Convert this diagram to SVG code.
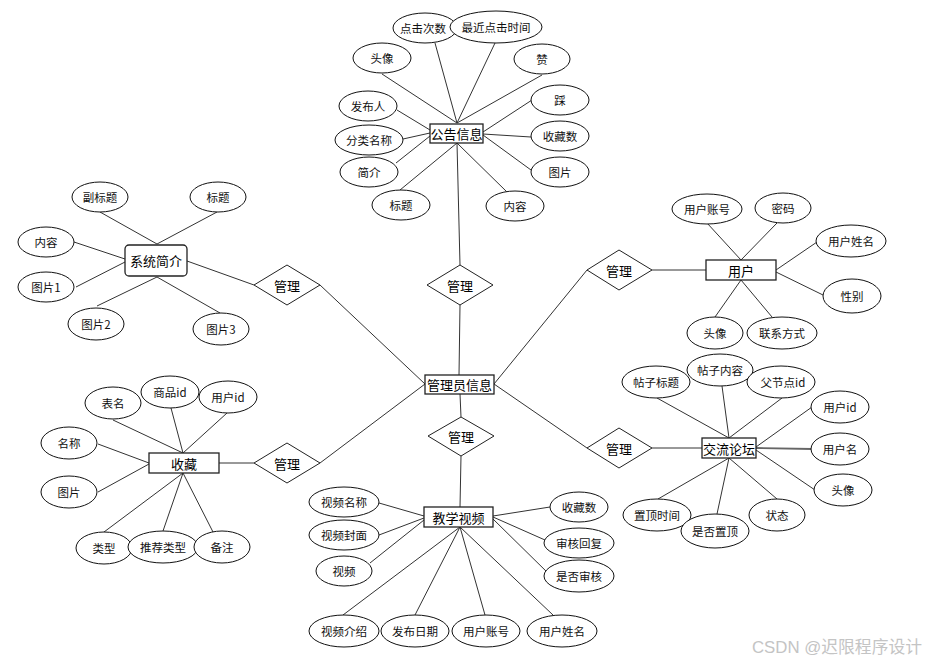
<svg xmlns="http://www.w3.org/2000/svg" width="927" height="662" viewBox="0 0 927 662">
<style>
.bg{fill:#fff}
.c line{stroke:#333;stroke-width:1}
.a ellipse{fill:#fff;stroke:#111;stroke-width:1}
.a text{font-family:"Noto Sans CJK SC","Liberation Sans",sans-serif;font-size:11.5px;fill:#111;text-anchor:middle;dominant-baseline:central}
.e rect{fill:#fff;stroke:#222;stroke-width:1.3}
.e text{font-family:"Noto Sans CJK SC","Liberation Sans",sans-serif;font-size:13px;fill:#000;text-anchor:middle;dominant-baseline:central}
.r polygon{fill:#fff;stroke:#222;stroke-width:1}
.r text{font-family:"Noto Sans CJK SC","Liberation Sans",sans-serif;font-size:13px;fill:#000;text-anchor:middle;dominant-baseline:central}
.wm{font-family:"Liberation Sans","Noto Sans CJK SC",sans-serif;font-size:16.5px;fill:#c4c4c4}
</style>
<rect class="bg" x="0" y="0" width="927" height="662"/>
<g id="connectors" class="c">
  <line x1="457" y1="123" x2="435" y2="43"/>
  <line x1="457" y1="123" x2="495" y2="43"/>
  <line x1="457" y1="123" x2="382" y2="74"/>
  <line x1="457" y1="123" x2="542" y2="75"/>
  <line x1="430" y1="130" x2="397" y2="110"/>
  <line x1="430" y1="133" x2="403" y2="139"/>
  <line x1="430" y1="136" x2="396" y2="163"/>
  <line x1="457" y1="143" x2="400" y2="190"/>
  <line x1="457" y1="143" x2="507" y2="192"/>
  <line x1="483" y1="132" x2="532" y2="100"/>
  <line x1="483" y1="134" x2="531" y2="137"/>
  <line x1="483" y1="135" x2="531" y2="170"/>
  <line x1="457" y1="143" x2="460" y2="265"/>
  <line x1="460" y1="305" x2="459" y2="375"/>
  <line x1="460" y1="394" x2="461" y2="417"/>
  <line x1="461" y1="456" x2="460" y2="507"/>
  <line x1="320" y1="285" x2="425" y2="384"/>
  <line x1="320" y1="463" x2="425" y2="384"/>
  <line x1="494" y1="384" x2="587" y2="270"/>
  <line x1="494" y1="384" x2="587" y2="448"/>
  <line x1="187" y1="261" x2="254" y2="285"/>
  <line x1="157" y1="244" x2="100" y2="212"/>
  <line x1="157" y1="244" x2="217" y2="212"/>
  <line x1="125" y1="259" x2="74" y2="242"/>
  <line x1="125" y1="262" x2="76" y2="287"/>
  <line x1="157" y1="277" x2="97" y2="306"/>
  <line x1="157" y1="277" x2="220" y2="313"/>
  <line x1="219" y1="463" x2="254" y2="463"/>
  <line x1="183" y1="453" x2="113" y2="420"/>
  <line x1="183" y1="453" x2="171" y2="408"/>
  <line x1="183" y1="453" x2="227" y2="413"/>
  <line x1="149" y1="463" x2="98" y2="444"/>
  <line x1="149" y1="464" x2="98" y2="492"/>
  <line x1="183" y1="473" x2="104" y2="532"/>
  <line x1="183" y1="473" x2="163" y2="531"/>
  <line x1="183" y1="473" x2="213" y2="532"/>
  <line x1="652" y1="270" x2="706" y2="270"/>
  <line x1="741" y1="260" x2="707" y2="223"/>
  <line x1="741" y1="260" x2="777" y2="223"/>
  <line x1="776" y1="270" x2="817" y2="242"/>
  <line x1="776" y1="272" x2="823" y2="295"/>
  <line x1="741" y1="280" x2="715" y2="317"/>
  <line x1="741" y1="280" x2="772" y2="317"/>
  <line x1="652" y1="448" x2="702" y2="448"/>
  <line x1="729" y1="438" x2="657" y2="398"/>
  <line x1="729" y1="438" x2="722" y2="386"/>
  <line x1="729" y1="438" x2="782" y2="398"/>
  <line x1="756" y1="447" x2="812" y2="407"/>
  <line x1="756" y1="448" x2="812" y2="449" style="stroke:#666;stroke-width:1.8"/>
  <line x1="756" y1="450" x2="815" y2="490"/>
  <line x1="729" y1="458" x2="658" y2="499"/>
  <line x1="729" y1="458" x2="717" y2="514"/>
  <line x1="729" y1="458" x2="777" y2="499"/>
  <line x1="424" y1="516" x2="379" y2="503"/>
  <line x1="424" y1="518" x2="379" y2="535"/>
  <line x1="424" y1="520" x2="370" y2="563"/>
  <line x1="460" y1="527" x2="343" y2="615"/>
  <line x1="460" y1="527" x2="415" y2="615"/>
  <line x1="460" y1="527" x2="485" y2="615"/>
  <line x1="460" y1="527" x2="553" y2="615"/>
  <line x1="493" y1="516" x2="550" y2="507"/>
  <line x1="493" y1="517" x2="545" y2="540"/>
  <line x1="493" y1="519" x2="550" y2="575"/>
</g>

<g id="rel-top" class="r"><polygon points="460,265 493,285 460,305 427,285"/><text x="460" y="285">管理</text></g>
<g id="rel-bottom" class="r"><polygon points="461,417 494,436 461,456 428,436"/><text x="461" y="436">管理</text></g>
<g id="rel-left-top" class="r"><polygon points="287,265 320,285 287,305 254,285"/><text x="287" y="285">管理</text></g>
<g id="rel-left-bottom" class="r"><polygon points="287,443 320,463 287,483 254,463"/><text x="287" y="463">管理</text></g>
<g id="rel-right-top" class="r"><polygon points="619,250 652,270 619,290 587,270"/><text x="619" y="270">管理</text></g>
<g id="rel-right-bottom" class="r"><polygon points="619,428 652,448 619,468 587,448"/><text x="619" y="448">管理</text></g>

<g id="admin" class="e"><rect x="425" y="375" width="69" height="19"/><text x="459.5" y="384.5">管理员信息</text></g>
<g id="notice" class="e"><rect x="430" y="124" width="53" height="19"/><text x="456.5" y="133.5">公告信息</text></g>
<g id="intro" class="e"><rect x="125" y="245" width="62" height="31" rx="4"/><text x="156" y="260.5">系统简介</text></g>
<g id="fav" class="e"><rect x="149" y="453" width="70" height="20"/><text x="184" y="463">收藏</text></g>
<g id="user" class="e"><rect x="706" y="260" width="70" height="20"/><text x="741" y="270">用户</text></g>
<g id="forum" class="e"><rect x="702" y="438" width="54" height="20"/><text x="729" y="448">交流论坛</text></g>
<g id="video" class="e"><rect x="424" y="507" width="69" height="20"/><text x="458.5" y="517">教学视频</text></g>

<g id="n-clicks" class="a"><ellipse cx="425" cy="28" rx="32" ry="15"/><text x="423" y="28">点击次数</text></g>
<g id="n-lastclick" class="a"><ellipse cx="496" cy="27" rx="46" ry="16"/><text x="496" y="27">最近点击时间</text></g>
<g id="n-avatar" class="a"><ellipse cx="382" cy="58" rx="29" ry="15"/><text x="382" y="58">头像</text></g>
<g id="n-like" class="a"><ellipse cx="542" cy="59" rx="28" ry="15"/><text x="542" y="59">赞</text></g>
<g id="n-publisher" class="a"><ellipse cx="368" cy="106" rx="29" ry="15"/><text x="368" y="106">发布人</text></g>
<g id="n-category" class="a"><ellipse cx="369" cy="140" rx="34" ry="15"/><text x="369" y="140">分类名称</text></g>
<g id="n-brief" class="a"><ellipse cx="369" cy="172" rx="29" ry="15"/><text x="369" y="172">简介</text></g>
<g id="n-title" class="a"><ellipse cx="401" cy="205" rx="29" ry="15"/><text x="401" y="205">标题</text></g>
<g id="n-dislike" class="a"><ellipse cx="560" cy="100" rx="29" ry="15"/><text x="560" y="100">踩</text></g>
<g id="n-favs" class="a"><ellipse cx="560" cy="136" rx="29" ry="15"/><text x="560" y="136">收藏数</text></g>
<g id="n-pic" class="a"><ellipse cx="560" cy="172" rx="29" ry="15"/><text x="560" y="172">图片</text></g>
<g id="n-content" class="a"><ellipse cx="515" cy="206" rx="29" ry="15"/><text x="515" y="206">内容</text></g>

<g id="i-subtitle" class="a"><ellipse cx="100" cy="197" rx="28" ry="15"/><text x="100" y="197">副标题</text></g>
<g id="i-title" class="a"><ellipse cx="218" cy="197" rx="28" ry="15"/><text x="218" y="197">标题</text></g>
<g id="i-content" class="a"><ellipse cx="46" cy="242" rx="28" ry="15"/><text x="46" y="242">内容</text></g>
<g id="i-pic1" class="a"><ellipse cx="46" cy="287" rx="28" ry="15"/><text x="46" y="287">图片1</text></g>
<g id="i-pic2" class="a"><ellipse cx="96" cy="324" rx="28" ry="16"/><text x="96" y="324">图片2</text></g>
<g id="i-pic3" class="a"><ellipse cx="221" cy="329" rx="28" ry="16"/><text x="221" y="329">图片3</text></g>

<g id="f-table" class="a"><ellipse cx="113" cy="403" rx="28" ry="16"/><text x="113" y="403">表名</text></g>
<g id="f-goods" class="a"><ellipse cx="170" cy="392" rx="29" ry="16"/><text x="170" y="392">商品id</text></g>
<g id="f-uid" class="a"><ellipse cx="228" cy="397" rx="29" ry="16"/><text x="228" y="397">用户id</text></g>
<g id="f-name" class="a"><ellipse cx="69" cy="443" rx="28" ry="16"/><text x="69" y="443">名称</text></g>
<g id="f-pic" class="a"><ellipse cx="69" cy="492" rx="28" ry="16"/><text x="69" y="492">图片</text></g>
<g id="f-type" class="a"><ellipse cx="104" cy="548" rx="28" ry="16"/><text x="104" y="548">类型</text></g>
<g id="f-rtype" class="a"><ellipse cx="163" cy="547" rx="35" ry="16"/><text x="163" y="547">推荐类型</text></g>
<g id="f-note" class="a"><ellipse cx="222" cy="547" rx="28" ry="16"/><text x="222" y="547">备注</text></g>

<g id="u-account" class="a"><ellipse cx="707" cy="209" rx="35" ry="15"/><text x="707" y="209">用户账号</text></g>
<g id="u-pwd" class="a"><ellipse cx="783" cy="208" rx="28" ry="15"/><text x="783" y="208">密码</text></g>
<g id="u-name" class="a"><ellipse cx="851" cy="241" rx="35" ry="16"/><text x="851" y="241">用户姓名</text></g>
<g id="u-sex" class="a"><ellipse cx="852" cy="296" rx="29" ry="17"/><text x="852" y="296">性别</text></g>
<g id="u-avatar" class="a"><ellipse cx="715" cy="333" rx="28" ry="16"/><text x="715" y="333">头像</text></g>
<g id="u-contact" class="a"><ellipse cx="782" cy="333" rx="35" ry="16"/><text x="782" y="333">联系方式</text></g>

<g id="t-title" class="a"><ellipse cx="656" cy="382" rx="34" ry="16"/><text x="656" y="382">帖子标题</text></g>
<g id="t-content" class="a"><ellipse cx="720" cy="370" rx="33" ry="16"/><text x="720" y="370">帖子内容</text></g>
<g id="t-parent" class="a"><ellipse cx="781" cy="382" rx="34" ry="16"/><text x="783" y="382">父节点id</text></g>
<g id="t-uid" class="a"><ellipse cx="840" cy="407" rx="29" ry="16"/><text x="840" y="407">用户id</text></g>
<g id="t-uname" class="a"><ellipse cx="840" cy="449" rx="29" ry="16"/><text x="840" y="449">用户名</text></g>
<g id="t-avatar" class="a"><ellipse cx="843" cy="490" rx="29" ry="16"/><text x="843" y="490">头像</text></g>
<g id="t-toptime" class="a"><ellipse cx="657" cy="515" rx="34" ry="16"/><text x="657" y="515">置顶时间</text></g>
<g id="t-istop" class="a"><ellipse cx="715" cy="531" rx="34" ry="17"/><text x="715" y="531">是否置顶</text></g>
<g id="t-status" class="a"><ellipse cx="777" cy="515" rx="28" ry="16"/><text x="777" y="515">状态</text></g>

<g id="v-name" class="a"><ellipse cx="344" cy="502" rx="35" ry="15"/><text x="344" y="502">视频名称</text></g>
<g id="v-cover" class="a"><ellipse cx="344" cy="535" rx="35" ry="15"/><text x="344" y="535">视频封面</text></g>
<g id="v-video" class="a"><ellipse cx="344" cy="571" rx="28" ry="15"/><text x="344" y="571">视频</text></g>
<g id="v-favs" class="a"><ellipse cx="579" cy="507" rx="29" ry="15"/><text x="579" y="507">收藏数</text></g>
<g id="v-reply" class="a"><ellipse cx="579" cy="543" rx="35" ry="15"/><text x="579" y="543">审核回复</text></g>
<g id="v-audited" class="a"><ellipse cx="579" cy="576" rx="35" ry="16"/><text x="579" y="576">是否审核</text></g>
<g id="v-intro" class="a"><ellipse cx="344" cy="631" rx="35" ry="16"/><text x="344" y="631">视频介绍</text></g>
<g id="v-date" class="a"><ellipse cx="415" cy="631" rx="34" ry="16"/><text x="415" y="631">发布日期</text></g>
<g id="v-account" class="a"><ellipse cx="486" cy="631" rx="34" ry="16"/><text x="486" y="631">用户账号</text></g>
<g id="v-uname" class="a"><ellipse cx="562" cy="631" rx="35" ry="16"/><text x="562" y="631">用户姓名</text></g>

<text class="wm" x="752" y="653" textLength="170" lengthAdjust="spacingAndGlyphs">CSDN @迟限程序设计</text>
</svg>
